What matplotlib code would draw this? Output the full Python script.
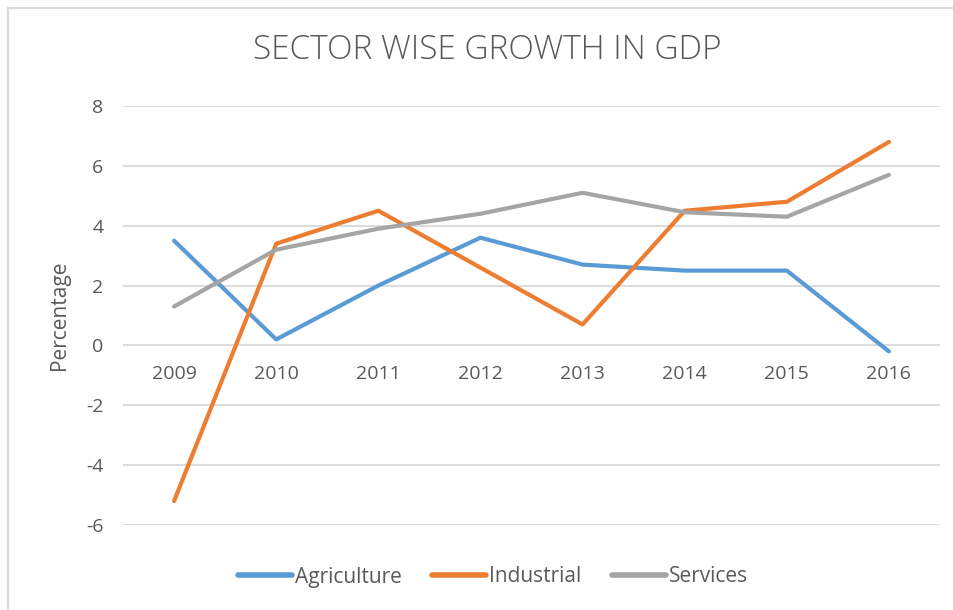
import matplotlib
matplotlib.use("Agg")
import matplotlib.pyplot as plt
from matplotlib.lines import Line2D

years = ["2009", "2010", "2011", "2012", "2013", "2014", "2015", "2016"]
agriculture = [3.5, 0.2, 2.0, 3.6, 2.7, 2.5, 2.5, -0.2]
industrial = [-5.2, 3.4, 4.5, 2.6, 0.7, 4.5, 4.8, 6.8]
services = [1.3, 3.2, 3.9, 4.4, 5.1, 4.45, 4.3, 5.7]
yticks = [-6, -4, -2, 0, 2, 4, 6, 8]

plt.rcParams['font.family'] = ['Open Sans', 'DejaVu Sans']
txt = '#595959'

W, H = 954, 610
fig = plt.figure(figsize=(W / 100, H / 100), dpi=100)

# outer chart border (light gray, top and left visible)
fig.add_artist(Line2D([8 / W, 8 / W], [0, 1 - 8 / H], color='#D9D9D9', lw=1.5, transform=fig.transFigure))
fig.add_artist(Line2D([8 / W, 1], [1 - 8 / H, 1 - 8 / H], color='#D9D9D9', lw=1.5, transform=fig.transFigure))

ax = fig.add_axes([123 / W, 1 - 525 / H, (940 - 123) / W, (525 - 106) / H])
x = list(range(len(years)))
ax.plot(x, agriculture, color='#5B9BD5', lw=3, solid_capstyle='round', label='Agriculture', zorder=3)
ax.plot(x, industrial, color='#ED7D31', lw=3, solid_capstyle='round', label='Industrial', zorder=3)
ax.plot(x, services, color='#A5A5A5', lw=3, solid_capstyle='round', label='Services', zorder=3)

ax.set_xlim(-0.5, len(years) - 0.5)
ax.set_ylim(-6, 8)
ax.set_yticks(yticks)
ax.set_yticklabels([str(v) for v in yticks])
ax.grid(axis='y', color='#D9D9D9', lw=1.3)
ax.set_axisbelow(True)
for s in ['top', 'right', 'left']:
    ax.spines[s].set_visible(False)
ax.spines['bottom'].set_position(('data', 0))
ax.spines['bottom'].set_color('none')
ax.set_xticks(x)
ax.set_xticklabels(years)
ax.tick_params(axis='x', length=0, pad=14, labelsize=14, labelcolor=txt)
ax.tick_params(axis='y', length=0, pad=14, labelsize=14, labelcolor=txt)

fig.text(60 / W, 1 - 315 / H, 'Percentage', rotation=90, ha='center', va='center', fontsize=15, color=txt)
fig.text(487 / W, 1 - 50 / H, 'SECTOR WISE GROWTH IN GDP', ha='center', va='center', fontsize=24, color=txt, fontweight='light')

handles, labels = ax.get_legend_handles_labels()
leg = fig.legend(handles, labels, loc='center', bbox_to_anchor=(493 / W, 1 - 577 / H), ncol=3, frameon=False,
                 fontsize=15, handlelength=2.6, handletextpad=0.15, columnspacing=1.45)
for t in leg.get_texts():
    t.set_color(txt)
for l in leg.get_lines():
    l.set_linewidth(4)

fig.savefig('out.png', dpi=100)
